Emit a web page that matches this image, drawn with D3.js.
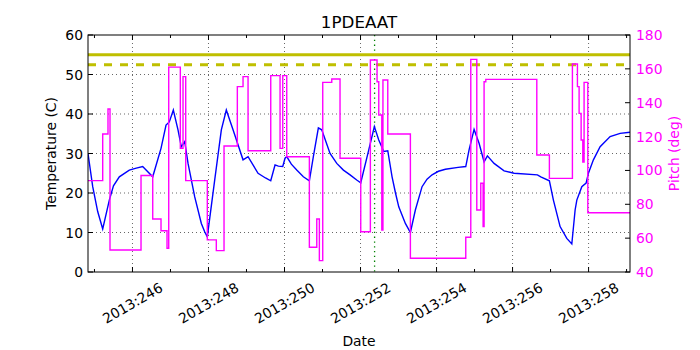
<!DOCTYPE html>
<html>
  <head>
    <meta charset="utf-8" />
    <script src="https://cdn.jsdelivr.net/npm/d3@7"></script>
    <style>
      body { margin: 0; background: #fff; }
      text { font-family: "DejaVu Sans", sans-serif; }
      .grid line { stroke: #000; stroke-width: 0.6; stroke-dasharray: 1,3; }
      .temp { stroke: #0000ff; stroke-width: 1.4; fill: none; }
      .pitch { stroke: #ff00ff; stroke-width: 1.4; fill: none; }
    </style>
  </head>
  <body>
    <div id="chart"></div>
    <script type="text/javascript">
      var w = 700, h = 350;
      var margin = {left: 88, right: 70, top: 35, bottom: 78};

      // day of year 2013
      var tempDays = [244.83, 244.954, 245.085, 245.217, 245.391, 245.5, 245.654, 245.917, 246.1, 246.269,
        246.533, 246.751, 246.883, 246.969, 247.075, 247.198, 247.285, 247.375, 247.462, 247.638,
        247.812, 247.9, 247.969, 248.164, 248.338, 248.469, 248.646, 248.909, 249.041, 249.304,
        249.5, 249.638, 249.751, 249.838, 249.954, 250.014, 250.059, 250.18, 250.322, 250.496,
        250.654, 250.759, 250.891, 250.98, 251.198, 251.375, 251.55, 251.725, 251.9, 252.006,
        252.217, 252.364, 252.48, 252.612, 252.717, 252.83, 252.92, 253.006, 253.18, 253.312,
        253.443, 253.619, 253.75, 253.883, 254.05, 254.233, 254.567, 254.769, 254.856, 254.988,
        255.119, 255.251, 255.338, 255.514, 255.777, 256.041, 256.654, 256.743, 256.969, 257.075,
        257.251, 257.427, 257.559, 257.646, 257.691, 257.822, 257.935, 257.996, 258.127, 258.304,
        258.567, 258.83, 259.09];
      var tempValues = [30, 21.6, 15.3, 10.9, 18.2, 21.8, 24.1, 25.8, 26.3, 26.7,
        24.1, 31.3, 37.2, 38, 41, 36, 31.7, 33, 27.5, 19,
        12.3, 10.2, 8.9, 23.3, 36, 41, 36, 28.4, 29.2, 25,
        23.8, 23.1, 27.1, 26.8, 26.7, 28.8, 29.2, 27.3, 25.8, 24.1,
        23.1, 29.2, 36.5, 36, 30, 27.5, 25.8, 24.6, 23.3, 22.6,
        30.9, 36.8, 33.4, 30.5, 30.7, 24.1, 20, 16.5, 12.3, 10,
        15.7, 21.6, 23.5, 24.6, 25.5, 26, 26.5, 26.7, 30.9, 36.1,
        32.6, 27.9, 29.4, 27.5, 25.6, 25, 24.6, 24.1, 23.1, 18.2,
        11.5, 8.5, 7.1, 15.7, 18.2, 21.6, 22.5, 25, 28.4, 31.7,
        34.3, 35.1, 35.4];

      var pitchDays = [244.83, 245.217, 245.356, 245.409, 246.225, 246.533, 246.751, 246.909, 246.954, 247.259,
        247.33, 247.401, 247.969, 248.206, 248.409, 248.759, 248.909, 249.041, 249.638, 249.883,
        249.954, 250.059, 250.654, 250.849, 250.917, 251.006, 251.243, 251.461, 252.006, 252.259,
        252.435, 252.48, 252.56, 252.59, 252.717, 253.312, 254.769, 254.901, 255.059, 255.164,
        255.225, 255.251, 255.296, 256.638, 256.969, 257.575, 257.707, 257.751, 257.804, 257.848,
        257.882, 257.98, 259.09];
      var pitchValues = [94, 121.5, 136.3, 53, 97, 71.3, 64.4, 54, 161, 113,
        155.4, 94, 59, 52.6, 114.4, 149.5, 155.4, 111.6, 156, 113,
        156, 108.1, 54.6, 71.3, 46.7, 152, 154, 107.2, 63.8, 165.2,
        152.4, 132.7, 64.8, 153.4, 121.5, 48.1, 60.5, 165.6, 76.6, 92.4,
        66.8, 152.4, 153.8, 109.1, 95.3, 162.9, 149.5, 133.7, 118, 105,
        152, 75, 75];

      var planningLimit = 55;
      var cautionLimit = 52.5;
      var nowDay = 252.37;

      var majorDays = [246, 248, 250, 252, 254, 256, 258];
      var minorDays = [245, 247, 249, 251, 253, 255, 257, 259];
      var tickLabels = ["2013:246", "2013:248", "2013:250", "2013:252", "2013:254", "2013:256", "2013:258"];
      var tempTicks = [0, 10, 20, 30, 40, 50, 60];
      var pitchTicks = [40, 60, 80, 100, 120, 140, 160, 180];

      var x0 = margin.left, x1 = w - margin.right, y0 = h - margin.bottom, y1 = margin.top;

      var x = d3.scaleLinear().domain([244.83, 259.09]).range([x0, x1]);
      var yT = d3.scaleLinear().domain([0, 60]).range([y0, y1]);
      var yP = d3.scaleLinear().domain([40, 180]).range([y0, y1]);

      var svg = d3.select("#chart").append("svg")
        .attr("width", w)
        .attr("height", h);

      svg.append("defs").append("clipPath").attr("id", "clip")
        .append("rect").attr("x", x0).attr("y", y1).attr("width", x1 - x0).attr("height", y0 - y1);

      // grid
      var grid = svg.append("g").attr("class", "grid");
      grid.selectAll("line.gx").data(majorDays).enter().append("line")
        .attr("x1", d => x(d)).attr("x2", d => x(d)).attr("y1", y1).attr("y2", y0);
      grid.selectAll("line.gy").data(tempTicks.slice(1, -1)).enter().append("line")
        .attr("y1", d => yT(d)).attr("y2", d => yT(d)).attr("x1", x0).attr("x2", x1);

      var plot = svg.append("g").attr("clip-path", "url(#clip)");

      plot.append("line")
        .attr("x1", x(nowDay)).attr("x2", x(nowDay)).attr("y1", y1).attr("y2", y0)
        .attr("stroke", "#008000").attr("stroke-width", 1.3).attr("stroke-dasharray", "1.3,3.5");

      plot.append("line")
        .attr("x1", x0).attr("x2", x1).attr("y1", yT(planningLimit)).attr("y2", yT(planningLimit))
        .attr("stroke", "#bfbf00").attr("stroke-width", 3);
      plot.append("line")
        .attr("x1", x0).attr("x2", x1).attr("y1", yT(cautionLimit)).attr("y2", yT(cautionLimit))
        .attr("stroke", "#bfbf00").attr("stroke-width", 3).attr("stroke-dasharray", "8,8");

      var tempLine = d3.line().x(d => x(d[0])).y(d => yT(d[1]));
      plot.append("path").attr("class", "temp")
        .attr("d", tempLine(d3.zip(tempDays, tempValues)));

      var pitchLine = d3.line().curve(d3.curveStepAfter).x(d => x(d[0])).y(d => yP(d[1]));
      plot.append("path").attr("class", "pitch")
        .attr("d", pitchLine(d3.zip(pitchDays, pitchValues)));

      // frame
      svg.append("rect").attr("x", x0).attr("y", y1).attr("width", x1 - x0).attr("height", y0 - y1)
        .attr("fill", "none").attr("stroke", "#000").attr("stroke-width", 1);

      // ticks, pointing inward
      var ticks = svg.append("g").attr("stroke", "#000").attr("stroke-width", 1);
      majorDays.concat(minorDays).forEach(function(d) {
        var len = majorDays.indexOf(d) >= 0 ? 5 : 3;
        ticks.append("line").attr("x1", x(d)).attr("x2", x(d)).attr("y1", y0).attr("y2", y0 - len);
        ticks.append("line").attr("x1", x(d)).attr("x2", x(d)).attr("y1", y1).attr("y2", y1 + len);
      });
      tempTicks.forEach(function(d) {
        ticks.append("line").attr("x1", x0).attr("x2", x0 + 5).attr("y1", yT(d)).attr("y2", yT(d));
      });
      pitchTicks.forEach(function(d) {
        ticks.append("line").attr("x1", x1).attr("x2", x1 - 5).attr("y1", yP(d)).attr("y2", yP(d));
      });

      // tick labels
      svg.selectAll("text.xt").data(majorDays).enter().append("text")
        .attr("transform", (d, i) => "translate(" + x(d) + "," + (y0 + 31) + ") rotate(-30)")
        .attr("text-anchor", "middle")
        .attr("dominant-baseline", "central")
        .attr("font-size", "13.9px")
        .text((d, i) => tickLabels[i]);

      svg.selectAll("text.yt").data(tempTicks).enter().append("text")
        .attr("x", x0 - 5).attr("y", d => yT(d))
        .attr("text-anchor", "end").attr("dominant-baseline", "central")
        .attr("font-size", "13.9px")
        .text(d => d);

      svg.selectAll("text.pt").data(pitchTicks).enter().append("text")
        .attr("x", x1 + 6).attr("y", d => yP(d))
        .attr("dominant-baseline", "central")
        .attr("font-size", "13.9px").attr("fill", "#ff00ff")
        .text(d => d);

      // titles
      svg.append("text").attr("x", (x0 + x1) / 2).attr("y", 28)
        .attr("text-anchor", "middle").attr("font-size", "16.7px").text("1PDEAAT");
      svg.append("text").attr("x", (x0 + x1) / 2).attr("y", 346)
        .attr("text-anchor", "middle").attr("font-size", "13.9px").text("Date");
      svg.append("text").attr("transform", "translate(51," + (y0 + y1) / 2 + ") rotate(-90)")
        .attr("text-anchor", "middle").attr("dominant-baseline", "central")
        .attr("font-size", "13.9px").text("Temperature (C)");
      svg.append("text").attr("transform", "translate(674," + (y0 + y1) / 2 + ") rotate(-90)")
        .attr("text-anchor", "middle").attr("dominant-baseline", "central")
        .attr("font-size", "13.9px").attr("fill", "#ff00ff").text("Pitch (deg)");
    </script>
  </body>
</html>
